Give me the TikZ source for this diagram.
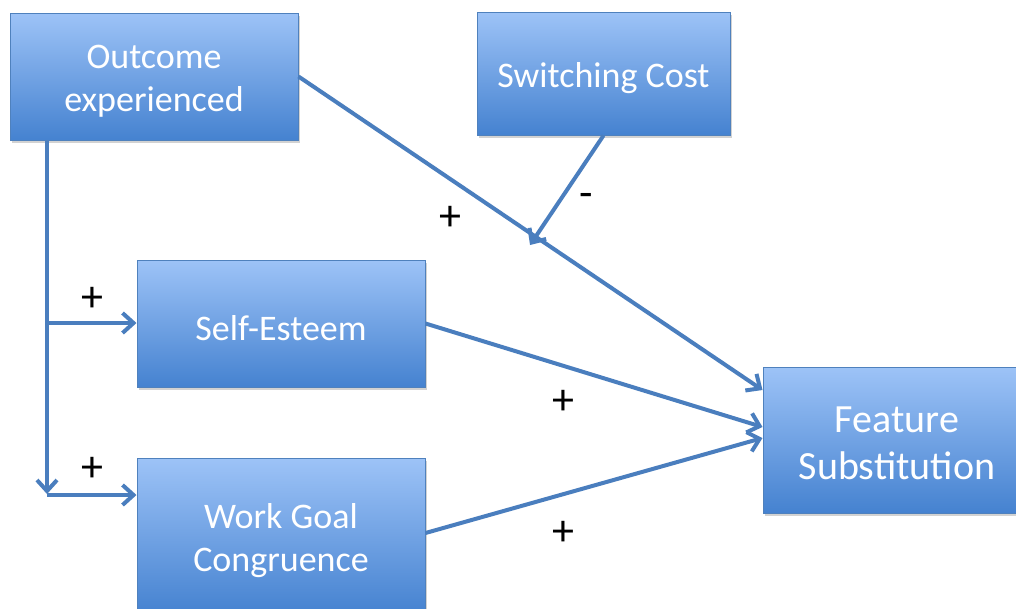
\documentclass[tikz,border=0pt]{standalone}
\usepackage{fontspec}
\setmainfont{Carlito}
\usetikzlibrary{arrows.meta,shadows,calc}
\definecolor{boxtop}{RGB}{157,195,247}
\definecolor{boxbot}{RGB}{69,130,208}
\definecolor{boxline}{RGB}{79,129,189}
\definecolor{conncol}{RGB}{74,126,190}
\tikzset{
  box/.style={rectangle, draw=boxline, line width=1pt, top color=boxtop, bottom color=boxbot,
    inner sep=0pt,
    drop shadow={shadow xshift=2pt, shadow yshift=-3pt, opacity=0.35}},
  boxtext/.style={text=white, align=center, inner sep=0pt, yshift=-5pt, font=\fontsize{36}{43}\selectfont},
  bigtext/.style={boxtext, font=\fontsize{40}{47}\selectfont},
  conn/.style={draw=conncol, line width=4pt, -{Straight Barb[length=11pt,width=20pt]}},
  sign/.style={font=\fontsize{44}{46}\selectfont, text=black, inner sep=0pt}
}
\begin{document}
\begin{tikzpicture}[x=1pt,y=-1pt]
\fill[white] (0,0) rectangle (1016,608);
\useasboundingbox (0,0) rectangle (1016,608);
\node[box, minimum width=288pt, minimum height=127pt,
  label={[boxtext]center:Outcome\\experienced}] (Outcome) at (154,76.5) {};
\node[box, minimum width=253pt, minimum height=123pt,
  label={[boxtext]center:Switching Cost}] (Switch) at (603.5,73.5) {};
\node[box, minimum width=288pt, minimum height=127pt,
  label={[boxtext]center:Self-Esteem}] (SE) at (281,323.5) {};
\node[box, minimum width=288pt, minimum height=156pt,
  label={[boxtext]center:Work Goal\\Congruence}] (WG) at (281,536) {};
\node[box, minimum width=268pt, minimum height=146pt,
  label={[bigtext,yshift=2pt]center:Feature\\Substitution}] (FS) at (897,440) {};
% trunk coordinates
\coordinate (t1) at (47,323);
\coordinate (t2) at (47,495);
\coordinate (tend) at (47,494);
\coordinate (fsin1) at ([yshift=50pt]FS.west);
\coordinate (fsin2) at ([yshift=13pt]FS.west);
\coordinate (fsin3) at ([yshift=2pt]FS.west);
\coordinate (wgout) at ([yshift=3pt]WG.east);
\coordinate (mid) at ($(Outcome.east)!0.511!(fsin1)$);
\draw[conn] (Outcome.east) -- (fsin1);
\draw[conn, shorten >=-10pt] (Switch.south) -- (mid);
\draw[conn] (SE.east) -- (fsin2);
\draw[conn] (wgout) -- (fsin3);
\draw[conn] (Outcome.south -| t1) -- (tend);
\draw[conn] (t1) -- (t1 -| SE.west);
\draw[conn] (t2) -- (t2 -| WG.west);
% signs
\node[sign] (s1) at (450,218) {+};
\node[sign] (s2) at (586,200) {-};
\node[sign] (s3) at (92,299) {+};
\node[sign] (s4) at (92,469) {+};
\node[sign] (s5) at (563,402) {+};
\node[sign] (s6) at (563,533) {+};
\end{tikzpicture}
\end{document}
